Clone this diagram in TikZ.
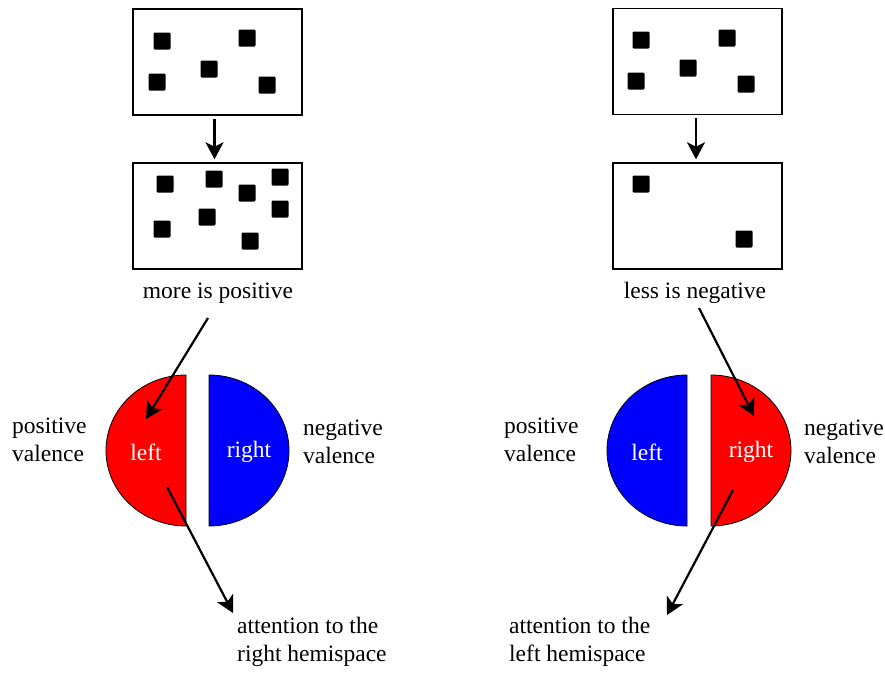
\documentclass[tikz,border=0pt]{standalone}
\usepackage{fontspec}
\setmainfont{Liberation Serif}
\usetikzlibrary{arrows.meta,calc}
\begin{document}
\begin{tikzpicture}[x=1pt,y=-1pt,
  every node/.style={font=\fontsize{23.5}{28}\selectfont, inner sep=0pt},
  panel/.style={draw=black, line width=1.5pt, fill=white, minimum width=169pt, minimum height=106pt},
  dot/.style={fill=black, minimum size=17pt, rounded corners=1.2pt},
  arr/.style={line width=2.2pt, -{Stealth[length=17pt,width=18pt,inset=4.5pt]}},
  half/.style={draw=black, line width=0.8pt},
  lbl/.style={align=left},
  inner/.style={text=white}]
\useasboundingbox (0,0) rectangle (885,673);

% ---------- left column: more is positive ----------
\node[panel] (lt) at (217.5,62) {};
\node[panel] (lb) at (217.5,216) {};
\foreach \n/\x/\y in {a/162/41, b/247/38, c/157/82, d/209/69, e/267/85}
  \node[dot] (lt\n) at (\x,\y) {};
\foreach \n/\x/\y in {a/165/184, b/214/179, c/247/193, d/280/177, e/280/209, f/207/217, g/162/229, h/250/241}
  \node[dot] (lb\n) at (\x,\y) {};
\draw[arr] ($(lt.south)+(-3,3)$) -- ($(lb.north)+(-3,-3)$);

\node (more) at (218,293) {more is positive};

\fill[red] (186,375) arc[start angle=-90, end angle=-270, x radius=80, y radius=75.5] -- cycle;
\draw[half] (186,375) arc[start angle=-90, end angle=-270, x radius=80, y radius=75.5] -- cycle;
\fill[blue] (209,375) arc[start angle=-90, end angle=90, x radius=80, y radius=75.5] -- cycle;
\draw[half] (209,375) arc[start angle=-90, end angle=90, x radius=80, y radius=75.5] -- cycle;
\node[inner] (lleft) at (146,452) {left};
\node[inner] (lright) at (249,452) {right};

\node[lbl, anchor=west] (lpos) at (12,440) {positive\\valence};
\node[lbl, anchor=west] (lneg) at (303,442) {negative\\valence};

\node[lbl, anchor=north west] (latt) at (237,617) {attention to the\\right hemispace};

\coordinate (m1) at (208,318);
\coordinate (m2) at (146,419);
\coordinate (m3) at (167,487);
\coordinate (m4) at (233,613);
\draw[arr] (m1) -- (m2);
\draw[arr] (m3) -- (m4);

% ---------- right column: less is negative ----------
\node[panel] (rt) at (697.5,61.5) {};
\node[panel] (rb) at (697.5,216) {};
\foreach \n/\x/\y in {a/641/40, b/727/38, c/636/81, d/688/68, e/746/84}
  \node[dot] (rt\n) at (\x,\y) {};
\foreach \n/\x/\y in {a/641/184, b/744/239}
  \node[dot] (rb\n) at (\x,\y) {};
\draw[arr] ($(rt.south)+(-1.5,3)$) -- ($(rb.north)+(-1.5,-3)$);

\node (less) at (695,293) {less is negative};

\fill[blue] (687,375) arc[start angle=-90, end angle=-270, x radius=80, y radius=75.5] -- cycle;
\draw[half] (687,375) arc[start angle=-90, end angle=-270, x radius=80, y radius=75.5] -- cycle;
\fill[red] (711,375) arc[start angle=-90, end angle=90, x radius=80, y radius=75.5] -- cycle;
\draw[half] (711,375) arc[start angle=-90, end angle=90, x radius=80, y radius=75.5] -- cycle;
\node[inner] (rleft) at (647,452) {left};
\node[inner] (rright) at (751,452) {right};

\node[lbl, anchor=west] (rpos) at (504,440) {positive\\valence};
\node[lbl, anchor=west] (rneg) at (804,442) {negative\\valence};

\node[lbl, anchor=north west] (ratt) at (509,617) {attention to the\\left hemispace};

\coordinate (n1) at (699,308);
\coordinate (n2) at (754,416);
\coordinate (n3) at (733,490);
\coordinate (n4) at (667,615);
\draw[arr] (n1) -- (n2);
\draw[arr] (n3) -- (n4);
\end{tikzpicture}
\end{document}
